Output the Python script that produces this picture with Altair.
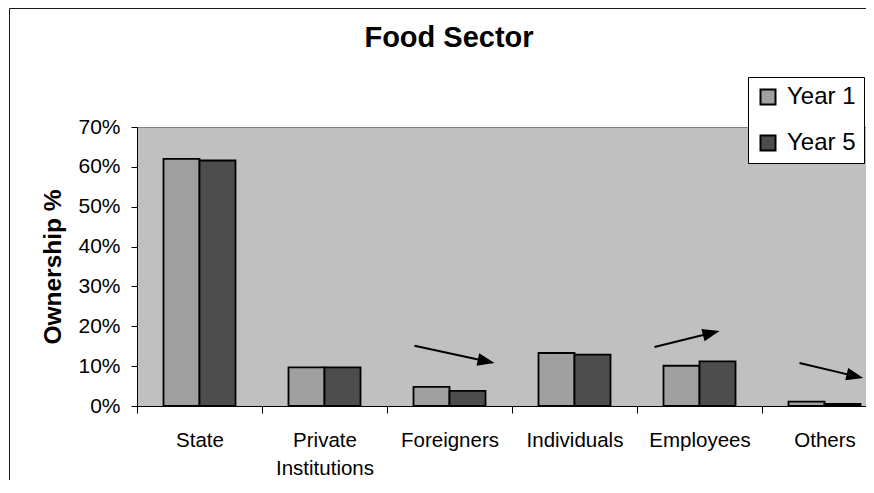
import math
import altair as alt
import pandas as pd

# ---- data ----
title_text = ["Food Sector"]
categories = ["State", "Private Institutions", "Foreigners", "Individuals", "Employees", "Others"]
series = ["Year 1", "Year 5"]
year1 = [0.620, 0.097, 0.048, 0.133, 0.101, 0.011]
year5 = [0.616, 0.097, 0.038, 0.129, 0.112, 0.005]
y_ticks = [0.0, 0.1, 0.2, 0.3, 0.4, 0.5, 0.6, 0.7]

# trend arrows, in category-index units (x) and share units (y)
arrow_x0 = [2.22, 4.14, 5.30]
arrow_y0 = [0.151, 0.148, 0.108]
arrow_x1 = [2.86, 4.66, 5.81]
arrow_y1 = [0.108, 0.188, 0.070]

FONT = "Liberation Sans"
PLOT_W, PLOT_H = 729, 279
BAND_RANGE = 750
Y_MAX = 0.7
HEAD_LEN = 17

bars = pd.DataFrame({
    "category": categories * 2,
    "series": [series[0]] * len(categories) + [series[1]] * len(categories),
    "value": year1 + year5,
})

px_x = BAND_RANGE / len(categories)
px_y = PLOT_H / Y_MAX
rows = []
for x0, y0, x1, y1 in zip(arrow_x0, arrow_y0, arrow_x1, arrow_y1):
    dx = (x1 - x0) * px_x
    dy = -(y1 - y0) * px_y
    L = math.hypot(dx, dy)
    ux, uy = dx / L, dy / L
    xh = x1 - (HEAD_LEN / 2) * ux / px_x
    yh = y1 + (HEAD_LEN / 2) * uy / px_y
    ang = math.degrees(math.atan2(dy, dx)) % 360
    rows.append({"x0": x0, "y0": y0, "xh": xh, "yh": yh, "angle": ang})
arrows = pd.DataFrame(rows)

yscale = alt.Scale(domain=[0, Y_MAX], nice=False, zero=True)
yaxis = alt.Axis(values=y_ticks, format=".0%", title="Ownership %", grid=False,
                 labelFontSize=21, tickSize=6, labelPadding=11, titlePadding=12)
xq = alt.Scale(domain=[0, len(categories)], range=[0, BAND_RANGE], nice=False, zero=False)

bar_layer = alt.Chart(bars).mark_bar(stroke="black", strokeWidth=1.8).encode(
    x=alt.X("category:N", sort=categories,
            scale=alt.Scale(range=[0, BAND_RANGE], paddingInner=0, paddingOuter=0),
            axis=alt.Axis(title=None, labelAngle=0, tickBand="extent",
                          labelExpr="split(datum.label, ' ')",
                          labelFontSize=20.5, labelLineHeight=28,
                          tickSize=7, labelPadding=17)),
    xOffset=alt.XOffset("series:N", sort=series,
                        scale=alt.Scale(paddingInner=0, paddingOuter=0.736)),
    y=alt.Y("value:Q", scale=yscale, axis=yaxis),
    color=alt.Color("series:N", sort=series,
                    scale=alt.Scale(domain=series, range=["#A0A0A0", "#4D4D4D"]),
                    legend=alt.Legend(title=None, orient="none", legendX=611, legendY=-50,
                                      direction="vertical", fillColor="white",
                                      strokeColor="black", padding=8,
                                      symbolType="square", symbolSize=225,
                                      symbolStrokeColor="black", symbolStrokeWidth=2,
                                      symbolOpacity=1,
                                      labelFont=FONT, labelFontSize=24, labelColor="black",
                                      labelOffset=7, rowPadding=22)),
)

shaft = alt.Chart(arrows).mark_rule(color="black", strokeWidth=2).encode(
    x=alt.X("x0:Q", scale=xq, axis=None),
    x2="xh:Q",
    y=alt.Y("y0:Q", scale=yscale, axis=yaxis),
    y2="yh:Q",
)

head = alt.Chart(arrows).mark_point(
    shape="M-1,-0.75L1,0L-1,0.75Z", filled=True, color="black", size=HEAD_LEN ** 2, opacity=1
).encode(
    x=alt.X("xh:Q", scale=xq, axis=None),
    y=alt.Y("yh:Q", scale=yscale, axis=yaxis),
    angle=alt.Angle("angle:Q", scale=None),
)

title = alt.Chart(pd.DataFrame({"t": title_text})).mark_text(
    font=FONT, fontSize=29, fontWeight="bold", color="black",
    align="center", baseline="alphabetic"
).encode(text="t:N", x=alt.value(312), y=alt.value(-80))

one = alt.Data(values=[{"k": 1}])
left_border = alt.Chart(one).mark_rule(color="#1a1a1a", strokeWidth=1).encode(
    x=alt.value(-127.5), y=alt.value(-118.5), y2=alt.value(420))
top_border = alt.Chart(one).mark_rule(color="#1a1a1a", strokeWidth=1).encode(
    x=alt.value(-127.5), x2=alt.value(800), y=alt.value(-118.5))

chart = alt.layer(bar_layer, shaft, head, title, left_border, top_border).resolve_scale(
    x="independent"
).properties(
    width=PLOT_W, height=PLOT_H,
    padding={"left": 129, "top": 119, "right": 0, "bottom": 74},
    autosize=alt.AutoSizeParams(type="none"),
    background="white",
).configure_view(
    fill="#C0C0C0", stroke="#808080", strokeWidth=1
).configure_axis(
    labelFont=FONT, labelColor="black", titleFont=FONT, titleFontWeight="bold",
    titleFontSize=24.5, titleColor="black", domainColor="black", tickColor="black",
    domainWidth=1, tickWidth=1,
)

chart.save("out.html", embed_options={"renderer": "svg", "actions": False})
